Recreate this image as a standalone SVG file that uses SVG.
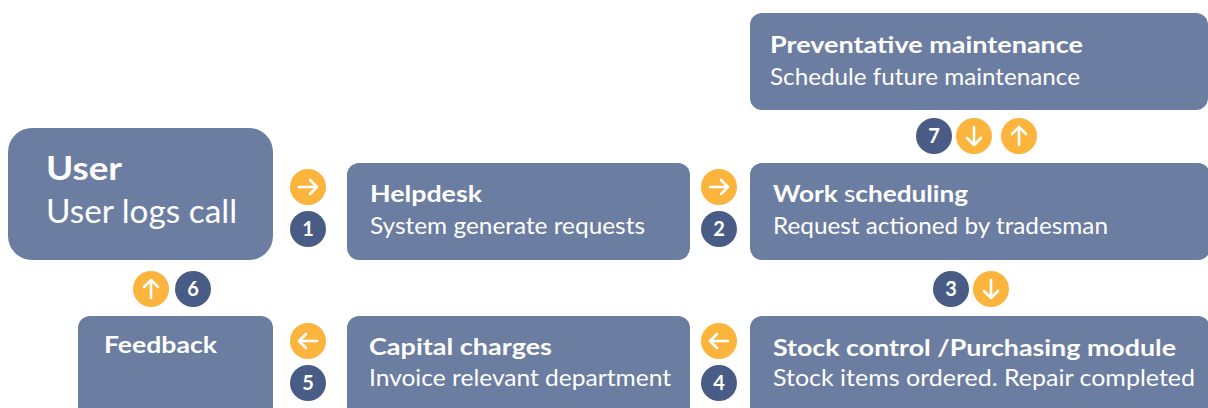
<svg xmlns="http://www.w3.org/2000/svg" width="1208" height="408" viewBox="0 0 1208 408">
<style>
.box{fill:#6b7da1}
.t{font-family:Lato,"Open Sans","Liberation Sans",sans-serif;fill:#ffffff;font-size:23.5px}
.b{font-weight:bold;font-size:23px}
.m{font-weight:normal}
.num{fill:#495c86}
.arr{fill:#fbb43c}
.ic{fill:none;stroke:#ffffff;stroke-width:2.6;stroke-linecap:round;stroke-linejoin:round}
.n{font-family:Lato,"Open Sans","Liberation Sans",sans-serif;fill:#ffffff;font-weight:bold;font-size:20px;text-anchor:middle}
</style>
<rect width="1208" height="408" fill="#ffffff"/>
<g id="user">
<rect class="box" x="8" y="128" width="265" height="132" rx="24"/>
<text class="t b" x="46" y="180" style="font-size:32px" textLength="76" lengthAdjust="spacingAndGlyphs">User</text>
<text class="t" x="46" y="223" style="font-size:32px" textLength="191" lengthAdjust="spacingAndGlyphs">User logs call</text>
</g>
<g id="helpdesk">
<rect class="box" x="347" y="163" width="343" height="97" rx="12"/>
<text class="t b" x="370" y="202" textLength="112" lengthAdjust="spacingAndGlyphs">Helpdesk</text>
<text class="t" x="370" y="234" textLength="275" lengthAdjust="spacingAndGlyphs">System generate requests</text>
</g>
<g id="work">
<rect class="box" x="750" y="163" width="460" height="97" rx="12"/>
<text class="t b" x="773" y="202" textLength="195" lengthAdjust="spacingAndGlyphs">Work <tspan class="m">s</tspan>cheduling</text>
<text class="t" x="773" y="234" textLength="335" lengthAdjust="spacingAndGlyphs">Request actioned by tradesman</text>
</g>
<g id="preventative">
<rect class="box" x="750" y="13" width="458" height="97" rx="12"/>
<text class="t b" x="770" y="53" textLength="313" lengthAdjust="spacingAndGlyphs">Preventative maintenance</text>
<text class="t" x="770" y="85" textLength="310" lengthAdjust="spacingAndGlyphs">Schedule future maintenance</text>
</g>
<g id="stock">
<rect class="box" x="750" y="316" width="460" height="110" rx="12"/>
<text class="t b" x="773" y="356" textLength="403" lengthAdjust="spacingAndGlyphs">Stock control /Purchasing module</text>
<text class="t" x="773" y="386" textLength="422" lengthAdjust="spacingAndGlyphs">Stock items ordered. Repair completed</text>
</g>
<g id="capital">
<rect class="box" x="347" y="316" width="343" height="110" rx="12"/>
<text class="t b" x="369" y="355" textLength="183" lengthAdjust="spacingAndGlyphs">Capital charges</text>
<text class="t" x="369" y="386" textLength="302" lengthAdjust="spacingAndGlyphs">Invoice relevant department</text>
</g>
<g id="feedback">
<rect class="box" x="78" y="316" width="195" height="110" rx="12"/>
<text class="t b" x="104" y="353" textLength="113" lengthAdjust="spacingAndGlyphs">Feedback</text>
</g>
<g id="connectors">
<circle class="arr" cx="308" cy="187" r="18"/>
<path class="ic" d="M299 187H317M310 180L317 187L310 194"/>
<circle class="num" cx="308" cy="229" r="18"/>
<text class="n" x="308" y="236">1</text>
<circle class="arr" cx="719" cy="187" r="18"/>
<path class="ic" d="M710 187H728M721 180L728 187L721 194"/>
<circle class="num" cx="719" cy="229" r="18"/>
<text class="n" x="719" y="236">2</text>
<circle class="num" cx="934" cy="136" r="18"/>
<text class="n" x="934" y="143">7</text>
<circle class="arr" cx="974" cy="136" r="18"/>
<path class="ic" d="M974 127V145M967 138L974 145L981 138"/>
<circle class="arr" cx="1019" cy="136" r="18"/>
<path class="ic" d="M1019 145V127M1012 134L1019 127L1026 134"/>
<circle class="num" cx="951" cy="289" r="18"/>
<text class="n" x="951" y="296">3</text>
<circle class="arr" cx="991" cy="289" r="18"/>
<path class="ic" d="M991 280V298M984 291L991 298L998 291"/>
<circle class="arr" cx="719" cy="341" r="18"/>
<path class="ic" d="M728 341H710M717 334L710 341L717 348"/>
<circle class="num" cx="719" cy="383" r="18"/>
<text class="n" x="719" y="390">4</text>
<circle class="arr" cx="308" cy="341" r="18"/>
<path class="ic" d="M317 341H299M306 334L299 341L306 348"/>
<circle class="num" cx="308" cy="383" r="18"/>
<text class="n" x="308" y="390">5</text>
<circle class="arr" cx="151" cy="289" r="18"/>
<path class="ic" d="M151 298V280M144 287L151 280L158 287"/>
<circle class="num" cx="193" cy="289" r="18"/>
<text class="n" x="193" y="296">6</text>
</g>
</svg>
